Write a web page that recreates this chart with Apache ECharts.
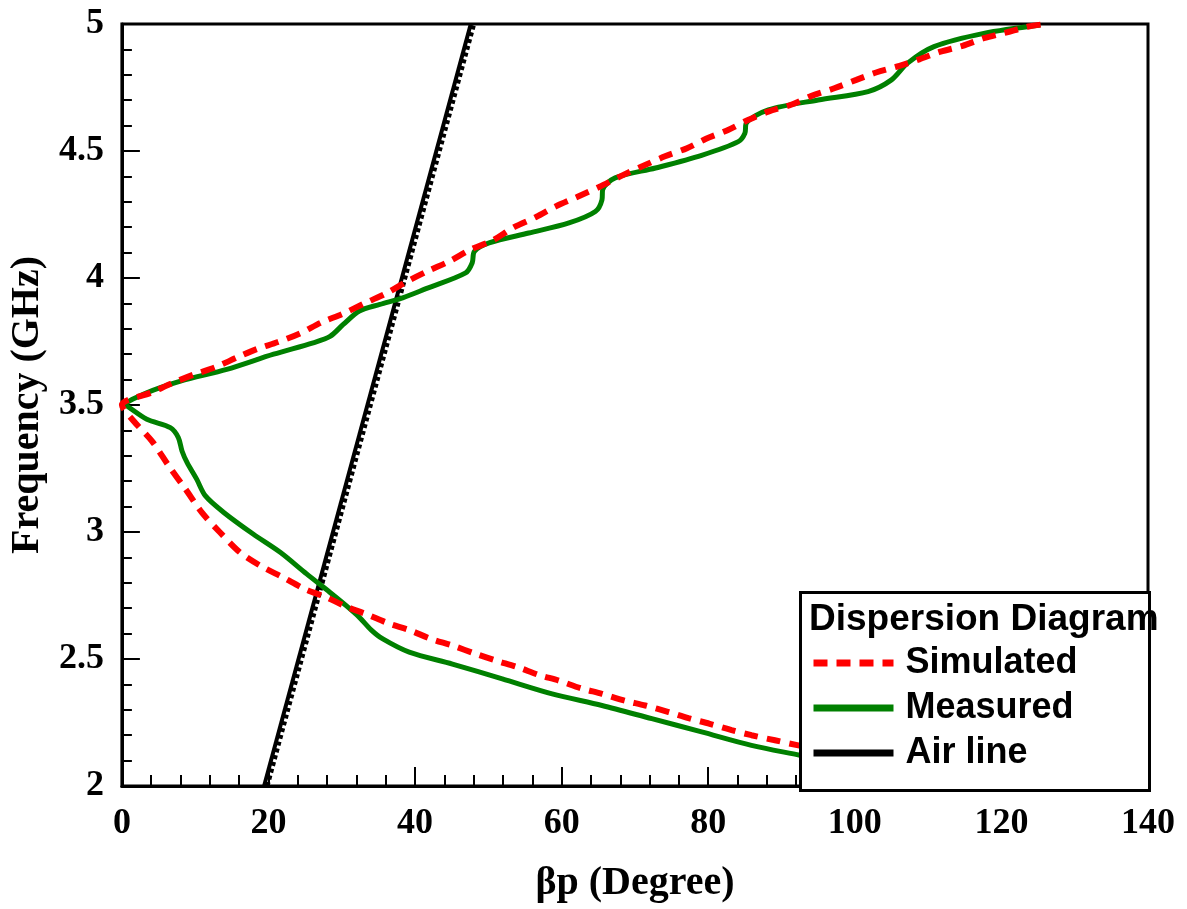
<!DOCTYPE html>
<html>
<head>
<meta charset="utf-8">
<script src="https://cdn.jsdelivr.net/npm/echarts@6/dist/echarts.min.js"></script>
<style>
html, body { margin: 0; padding: 0; background: #fff; }
#chart { width: 1187px; height: 909px; }
</style>
</head>
<body>
<div id="chart"></div>
<script>
// simulated: lower branch (outward from 0) then upper branch
var simLowBeta = [0, 1.6, 4.1, 6.4, 8.7, 10.9, 13.4, 16.1, 18.9, 22.0, 25.0, 27.9, 30.6, 33.3, 36.4, 39.2, 42.2, 45.1, 48.3, 51.0, 54.0, 56.9, 59.6, 62.6, 65.5, 68.5, 71.4, 74.6, 77.3, 80.2, 83.2, 85.9, 89.1, 92.3, 96.0];
var simLowFreq = [3.5, 3.437, 3.358, 3.26, 3.168, 3.077, 2.998, 2.92, 2.867, 2.821, 2.775, 2.743, 2.706, 2.677, 2.64, 2.614, 2.579, 2.553, 2.52, 2.494, 2.468, 2.437, 2.415, 2.385, 2.363, 2.337, 2.317, 2.291, 2.267, 2.245, 2.22, 2.2, 2.18, 2.16, 2.14];
var simUpBeta = [0, 4.1, 6.8, 9.8, 12.7, 15.7, 18.4, 21.3, 24.3, 27.2, 30.2, 33.3, 36.1, 38.8, 41.7, 44.7, 47.6, 50.6, 53.5, 56.5, 59.2, 62.1, 65.1, 68.0, 71.0, 74.1, 77.1, 79.7, 82.7, 85.5, 88.2, 91.3, 94.1, 97.2, 100.2, 102.9, 106.1, 108.8, 111.7, 114.7, 117.6, 120.6, 123.7, 126.0];
var simUpFreq = [3.5, 3.55, 3.585, 3.62, 3.648, 3.687, 3.72, 3.748, 3.782, 3.825, 3.86, 3.903, 3.94, 3.985, 4.027, 4.066, 4.112, 4.148, 4.2, 4.24, 4.282, 4.319, 4.358, 4.40, 4.44, 4.479, 4.511, 4.548, 4.583, 4.623, 4.655, 4.682, 4.717, 4.747, 4.78, 4.809, 4.835, 4.861, 4.891, 4.914, 4.944, 4.966, 4.99, 5.0];

// measured
var measLowBeta = [0.5, 0.7, 3.4, 6.6, 7.7, 8.2, 8.9, 10.2, 11.4, 13.9, 17.9, 21.6, 25.2, 28.4, 30.6, 32.4, 34.0, 35.6, 39.2, 45.1, 51.9, 58.7, 65.5, 72.3, 79.1, 85.9, 92.5, 96.0];
var measLowFreq = [3.5, 3.496, 3.444, 3.411, 3.372, 3.319, 3.273, 3.208, 3.142, 3.077, 2.992, 2.92, 2.835, 2.762, 2.71, 2.664, 2.615, 2.579, 2.527, 2.48, 2.422, 2.363, 2.317, 2.265, 2.213, 2.16, 2.121, 2.10];
var measUpBeta = [0.5, 3.4, 8.0, 14.3, 20.7, 26.1, 28.4, 30.2, 32.4, 35.2, 38.3, 41.5, 46.9, 47.8, 48.1, 50.1, 55.5, 61.0, 64.6, 65.5, 65.6, 67.3, 72.8, 79.1, 84.1, 85.0, 85.2, 88.2, 95.0, 101.8, 105.0, 107.2, 110.8, 117.6, 125.3];
var measUpFreq = [3.5, 3.548, 3.594, 3.64, 3.70, 3.745, 3.77, 3.817, 3.87, 3.896, 3.922, 3.958, 4.02, 4.06, 4.105, 4.138, 4.177, 4.217, 4.262, 4.308, 4.348, 4.394, 4.433, 4.483, 4.537, 4.57, 4.61, 4.662, 4.701, 4.734, 4.78, 4.846, 4.911, 4.963, 4.996];

// air line (solid + dotted copy)
var airBeta = [19.4, 47.6];
var airBeta2 = [19.8, 48.0];
var airFreq = [2, 5];

var xTicks = { min: 0, max: 140, step: 20 };
var yTicks = { min: 2, max: 5, step: 0.5 };

function branch(lowB, lowF, upB, upF) {
	var out = [];
	for (var i = lowB.length - 1; i >= 0; i--) {
		out.push([lowB[i], lowF[i]]);
	}
	for (var j = 1; j < upB.length; j++) {
		out.push([upB[j], upF[j]]);
	}
	return out;
}

function pairs(b, f) {
	var out = [];
	for (var i = 0; i < b.length; i++) {
		out.push([b[i], f[i]]);
	}
	return out;
}

var myChart = echarts.init(document.getElementById('chart'));

var serif = '"Liberation Serif", "Times New Roman", serif';
var sans = '"Liberation Sans", Arial, sans-serif';

var option = {
	backgroundColor: '#fff',
	animation: false,
	grid: {
		left: 118,
		top: 24,
		right: 39,
		bottom: 122,
		show: true,
		borderColor: '#000',
		borderWidth: 3,
		backgroundColor: 'transparent'
	},
	xAxis: {
		type: 'value',
		min: xTicks.min,
		max: xTicks.max,
		interval: xTicks.step,
		name: 'βp (Degree)',
		nameLocation: 'middle',
		nameGap: 78,
		nameTextStyle: {
			fontFamily: serif,
			fontWeight: 'bold',
			fontSize: 40,
			color: '#000'
		},
		axisLine: { lineStyle: { color: '#000', width: 3 } },
		axisTick: { inside: true, length: 19, lineStyle: { color: '#000', width: 2 } },
		minorTick: { show: true, splitNumber: 5, length: 11, lineStyle: { color: '#000', width: 2 } },
		splitLine: { show: false },
		axisLabel: {
			margin: 20,
			fontFamily: serif,
			fontWeight: 'bold',
			fontSize: 36,
			color: '#000'
		}
	},
	yAxis: {
		type: 'value',
		min: yTicks.min,
		max: yTicks.max,
		interval: yTicks.step,
		name: 'Frequency (GHz)',
		nameLocation: 'middle',
		nameGap: 66,
		nameTextStyle: {
			fontFamily: serif,
			fontWeight: 'bold',
			fontSize: 40,
			color: '#000'
		},
		axisLine: { lineStyle: { color: '#000', width: 3 } },
		axisTick: { inside: true, length: 18, lineStyle: { color: '#000', width: 2 } },
		minorTick: { show: true, splitNumber: 5, length: 10, lineStyle: { color: '#000', width: 2 } },
		splitLine: { show: false },
		axisLabel: {
			margin: 18,
			fontFamily: serif,
			fontWeight: 'bold',
			fontSize: 36,
			color: '#000'
		}
	},
	legend: {
		z: 20,
		orient: 'vertical',
		left: 810,
		top: 645,
		padding: 0,
		itemWidth: 80,
		itemHeight: 7,
		itemGap: 9,
		selectedMode: false,
		data: ['Simulated', 'Measured', 'Air line'],
		lineStyle: { width: 7 },
		itemStyle: { opacity: 0 },
		textStyle: {
			fontFamily: sans,
			fontWeight: 'bold',
			fontSize: 36,
			lineHeight: 35,
			color: '#000',
			padding: [0, 0, 0, 7]
		}
	},
	graphic: [{
		type: 'rect',
		z: 10,
		left: 799,
		top: 591,
		shape: { width: 349, height: 198 },
		style: { fill: '#fff', stroke: '#000', lineWidth: 3 }
	}, {
		type: 'text',
		z: 11,
		left: 809,
		top: 601,
		style: {
			text: 'Dispersion Diagram',
			fontFamily: sans,
			fontWeight: 'bold',
			fontSize: 37,
			fill: '#000'
		}
	}],
	series: [{
		name: 'Air line',
		type: 'line',
		symbol: 'none',
		z: 3,
		lineStyle: { color: '#000', width: 4 },
		itemStyle: { color: '#000' },
		data: pairs(airBeta, airFreq)
	}, {
		name: 'air2',
		type: 'line',
		symbol: 'none',
		z: 3,
		lineStyle: { color: '#000', width: 5, type: [4, 3] },
		itemStyle: { color: '#000' },
		data: pairs(airBeta2, airFreq)
	}, {
		name: 'Measured',
		type: 'line',
		symbol: 'none',
		smooth: 0.3,
		z: 4,
		lineStyle: { color: '#008000', width: 5 },
		itemStyle: { color: '#008000' },
		data: branch(measLowBeta, measLowFreq, measUpBeta, measUpFreq)
	}, {
		name: 'Simulated',
		type: 'line',
		symbol: 'none',
		smooth: 0.3,
		z: 5,
		lineStyle: { color: '#ff0000', width: 6, type: [14, 9] },
		itemStyle: { color: '#ff0000' },
		data: branch(simLowBeta, simLowFreq, simUpBeta, simUpFreq)
	}]
};

myChart.setOption(option);
</script>
</body>
</html>
